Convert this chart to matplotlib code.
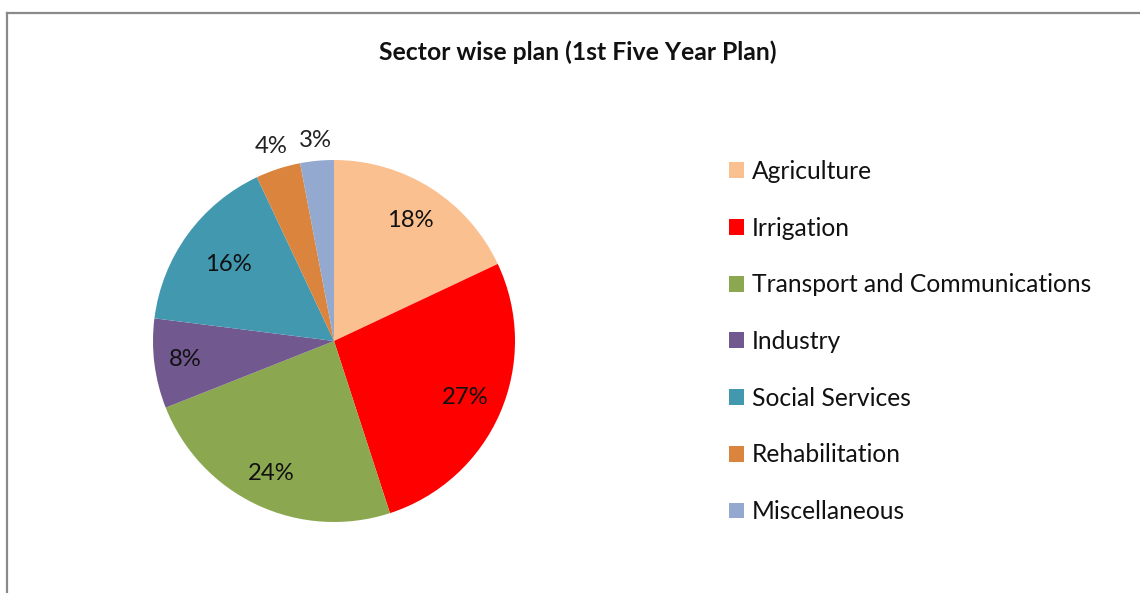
import numpy as np
import matplotlib.pyplot as plt
from matplotlib.lines import Line2D

plt.rcParams['font.family'] = ['Lato', 'DejaVu Sans']

# 1차 5개년 계획 부문별 배분
sectors = ['Agriculture', 'Irrigation', 'Transport and Communications', 'Industry',
           'Social Services', 'Rehabilitation', 'Miscellaneous']
shares = [18, 27, 24, 8, 16, 4, 3]
colors = ['#FAC090', '#FF0000', '#8BA74F', '#71588F', '#4198AF', '#DB843D', '#93A9CF']
# 작은 조각 라벨은 파이 바깥으로
label_dist = [0.79, 0.79, 0.81, 0.83, 0.72, 1.13, 1.11]

W, H = 1140, 593
fig = plt.figure(figsize=(W / 100, H / 100), dpi=100)

# 바깥 테두리 (왼쪽, 위쪽만 보임)
fig.add_artist(Line2D([7 / W, 7 / W], [0, 1 - 13 / H], color='#8a8a8a', lw=1.6,
                      transform=fig.transFigure))
fig.add_artist(Line2D([7 / W, 1], [1 - 13 / H, 1 - 13 / H], color='#8a8a8a', lw=1.6,
                      transform=fig.transFigure))

r_px = 181
cx, cy = 334, H - 341
half = 1.25 * r_px
ax = fig.add_axes([(cx - half) / W, (cy - half) / H, 2 * half / W, 2 * half / H])

wedges, texts, autotexts = ax.pie(shares, colors=colors, startangle=90, counterclock=False,
                                  autopct='%d%%', pctdistance=0.79,
                                  textprops={'fontsize': 17.2, 'color': '#111111'})
ax.set_xlim(-1.25, 1.25)
ax.set_ylim(-1.25, 1.25)

for w, t, d in zip(wedges, autotexts, label_dist):
    mid = np.deg2rad((w.theta1 + w.theta2) / 2)
    t.set_position((d * np.cos(mid), d * np.sin(mid)))
    if d > 1:
        t.set_color('#222222')

fig.text(578 / W, 1 - 52 / H, 'Sector wise plan (1st Five Year Plan)', ha='center',
         va='center', fontsize=17.8, fontweight='bold', color='#111111')

fig.legend(wedges, sectors, loc='upper left', bbox_to_anchor=(729 / W, 1 - 160 / H),
           frameon=False, fontsize=17.7, handlelength=0.61, handleheight=0.61,
           handletextpad=0.33, labelspacing=1.37, borderaxespad=0, borderpad=0,
           labelcolor='#111111')

fig.savefig('out.png', dpi=100)
